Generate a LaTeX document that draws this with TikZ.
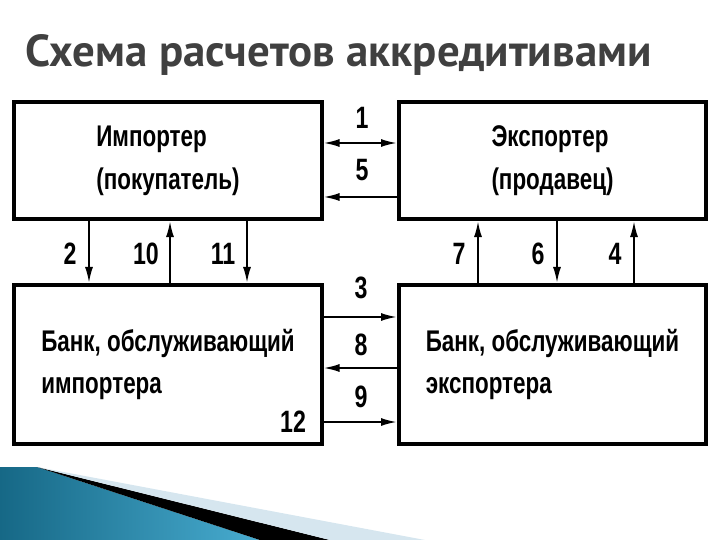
\documentclass[tikz,border=0pt]{standalone}
\usepackage{fontspec}
\setmainfont{Liberation Sans}
\newfontfamily\narrowfont[FakeStretch=0.75]{Liberation Sans}
\newfontfamily\titlefont{PT Sans}
\usetikzlibrary{arrows.meta, positioning}

\definecolor{titlegray}{RGB}{64,64,64}
\definecolor{tealdark}{RGB}{22,104,134}
\definecolor{teallight}{RGB}{72,172,208}
\definecolor{stripeblue}{RGB}{214,230,239}

\tikzset{
  box/.style={draw, line width=4bp, minimum width=307bp, align=left,
    font=\narrowfont\bfseries\fontsize{30}{43}\selectfont},
  num/.style={inner sep=0pt, font=\narrowfont\bfseries\fontsize{31}{31}\selectfont},
  arr/.style={line width=2bp, -{Latex[length=16bp,width=8bp]}},
  twoarr/.style={line width=2bp, {Latex[length=16bp,width=8bp]}-{Latex[length=16bp,width=8bp]}}
}

\begin{document}
\begin{tikzpicture}[x=1bp,y=-1bp]
\useasboundingbox (0,0) rectangle (720,540);

% corner band
\shade[left color=tealdark, right color=teallight] (0,467) -- (37,467) -- (260,540) -- (0,540) -- cycle;
\fill[black] (37,467) -- (330,540) -- (260,540) -- cycle;
\fill[stripeblue] (37,467) -- (425,540) -- (330,540) -- cycle;

% title
\node[anchor=base west, inner sep=0pt, text=titlegray, font=\titlefont\bfseries\fontsize{45}{45}\selectfont] (title) at (25,67) {Схема расчетов аккредитивами};

% participants
\node[box, minimum height=117bp] (imp) at (168,160.5) {Импортер\\(покупатель)};
\node[box, minimum height=117bp] (exp) at (552.5,160.5) {Экспортер\\(продавец)};
\node[box, minimum height=159bp] (bimp) at (168,364.5) {Банк, обслуживающий\\импортера};
\node[box, minimum height=159bp] (bexp) at (552.5,364.5) {Банк, обслуживающий\\экспортера};

% horizontal flows
\draw[twoarr] ([yshift=17.5bp]imp.east) -- ([yshift=17.5bp]exp.west);
\draw[arr] ([yshift=-36.5bp]exp.west) -- ([yshift=-36.5bp]imp.east);
\draw[arr] ([yshift=47.5bp]bimp.east) -- ([yshift=47.5bp]bexp.west);
\draw[arr] ([yshift=-3.5bp]bexp.west) -- ([yshift=-3.5bp]bimp.east);
\draw[arr] ([yshift=-57.5bp]bimp.east) -- ([yshift=-57.5bp]bexp.west);

% vertical flows
\draw[arr] ([xshift=-79bp]imp.south) -- ([xshift=-79bp]bimp.north);
\draw[arr] ([xshift=2bp]bimp.north) -- ([xshift=2bp]imp.south);
\draw[arr] ([xshift=79bp]imp.south) -- ([xshift=79bp]bimp.north);
\draw[arr] ([xshift=-74.5bp]bexp.north) -- ([xshift=-74.5bp]exp.south);
\draw[arr] ([xshift=4.5bp]exp.south) -- ([xshift=4.5bp]bexp.north);
\draw[arr] ([xshift=81.5bp]bexp.north) -- ([xshift=81.5bp]exp.south);

% step numbers
\node[num] (n1) at (362,118) {1};
\node[num] (n5) at (362,170) {5};
\node[num] (n3) at (361,288) {3};
\node[num] (n8) at (361,345) {8};
\node[num] (n9) at (361,397) {9};
\node[num] (n2) at (70,254) {2};
\node[num] (n10) at (146,254) {10};
\node[num] (n11) at (223,254) {11};
\node[num] (n7) at (459,254) {7};
\node[num] (n6) at (538,254) {6};
\node[num] (n4) at (615,254) {4};
\node[num] (n12) at (293,422) {12};
\end{tikzpicture}
\end{document}
